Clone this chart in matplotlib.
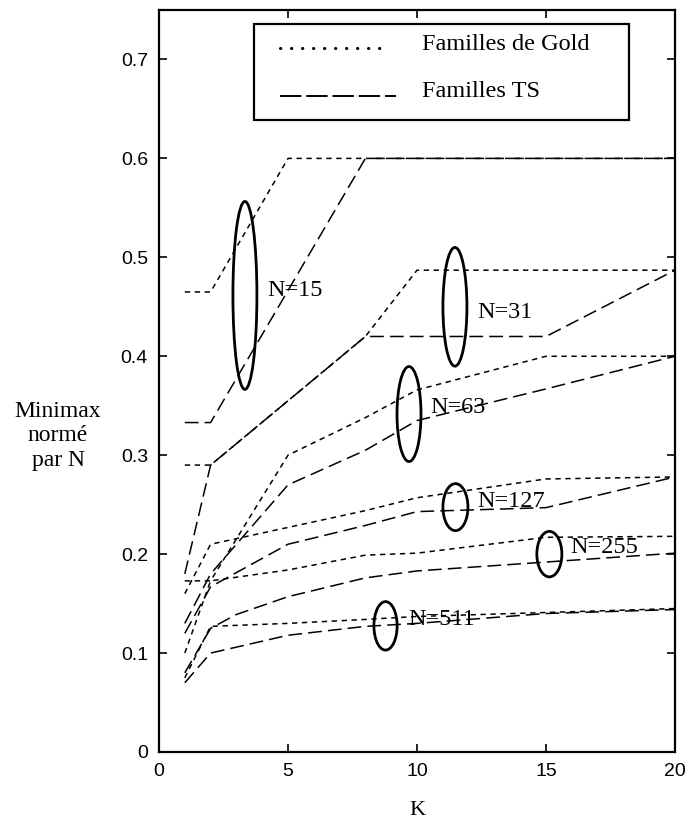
import numpy as np
import matplotlib
matplotlib.use("Agg")
from matplotlib import pyplot as plt
from matplotlib.patches import Ellipse, Rectangle

# Familles de Gold (pointillés)
k_g15 = [1, 2, 5, 20]
v_g15 = [0.465, 0.465, 0.600, 0.600]
k_g31 = [1, 2, 8, 10, 20]
v_g31 = [0.290, 0.290, 0.420, 0.487, 0.487]
k_g63 = [1, 2, 5, 8, 10, 15, 20]
v_g63 = [0.173, 0.173, 0.300, 0.338, 0.366, 0.400, 0.400]
k_g127 = [1, 2, 5, 8, 10, 15, 20]
v_g127 = [0.160, 0.210, 0.227, 0.244, 0.257, 0.276, 0.278]
k_g255 = [1, 2, 5, 8, 10, 15, 20]
v_g255 = [0.100, 0.173, 0.184, 0.199, 0.201, 0.217, 0.218]
k_g511 = [1, 2, 5, 8, 10, 15, 20]
v_g511 = [0.075, 0.127, 0.130, 0.134, 0.137, 0.141, 0.145]

# Familles TS (tirets)
k_t15 = [1, 2, 8, 20]
v_t15 = [0.333, 0.333, 0.600, 0.600]
k_t31 = [1, 2, 8, 15, 20]
v_t31 = [0.180, 0.290, 0.420, 0.420, 0.487]
k_t63 = [1, 2, 5, 8, 10, 15, 20]
v_t63 = [0.130, 0.180, 0.270, 0.305, 0.335, 0.367, 0.400]
k_t127 = [1, 2, 5, 8, 10, 15, 20]
v_t127 = [0.120, 0.167, 0.210, 0.229, 0.243, 0.247, 0.278]
k_t255 = [1, 2, 3, 5, 8, 10, 15, 20]
v_t255 = [0.080, 0.125, 0.139, 0.157, 0.176, 0.183, 0.192, 0.201]
k_t511 = [1, 2, 5, 8, 10, 15, 20]
v_t511 = [0.070, 0.100, 0.118, 0.127, 0.130, 0.140, 0.144]

# étiquettes N= et ellipses
n_labels = ["N=15", "N=31", "N=63", "N=127", "N=255", "N=511"]
lab_k = [4.19, 12.33, 10.5, 12.33, 15.93, 9.65]
lab_v = [0.466, 0.444, 0.348, 0.253, 0.2065, 0.1336]
ell_k = [3.33, 11.47, 9.69, 11.49, 15.13, 8.78]
ell_v = [0.4615, 0.450, 0.3416, 0.2475, 0.200, 0.1275]
ell_w = [0.93, 0.93, 0.93, 0.97, 0.97, 0.90]
ell_h = [0.190, 0.120, 0.096, 0.0475, 0.046, 0.049]

serif = "Liberation Serif"
plt.rcParams["font.family"] = "Liberation Sans"

fig = plt.figure(figsize=(6.98, 8.26), dpi=100)
ax = fig.add_axes([159 / 698, 1 - 752 / 826, 516 / 698, 742 / 826])

gold = dict(color="black", lw=1.1, dashes=(3.5, 3.0))
ts = dict(color="black", lw=1.1, dashes=(9, 4))

for k, v in [(k_g15, v_g15), (k_g31, v_g31), (k_g63, v_g63),
             (k_g127, v_g127), (k_g255, v_g255), (k_g511, v_g511)]:
    ax.plot(k, v, **gold)
for k, v in [(k_t15, v_t15), (k_t31, v_t31), (k_t63, v_t63),
             (k_t127, v_t127), (k_t255, v_t255), (k_t511, v_t511)]:
    ax.plot(k, v, **ts)

for lab, lk, lv, ek, ev, ew, eh in zip(n_labels, lab_k, lab_v, ell_k, ell_v, ell_w, ell_h):
    ax.add_patch(Ellipse((ek, ev), ew, eh, fill=False, lw=2.0, color="black"))
    ax.text(lk, lv, lab, family=serif, fontsize=17.5, va="center", ha="left")

# légende dessinée à la main
ax.add_patch(Rectangle((0.184, 0.852), 0.727, 0.129, transform=ax.transAxes,
                       fill=False, lw=1.6, color="black", zorder=5))
ax.plot([0.234, 0.438], [0.949, 0.949], transform=ax.transAxes, color="black",
        lw=2.2, linestyle=(0, (0.1, 3.5)), dash_capstyle="round", zorder=5)
ax.plot([0.234, 0.46], [0.884, 0.884], transform=ax.transAxes, color="black",
        lw=1.4, dashes=(11, 2.5), zorder=5)
ax.text(0.51, 0.954, "Familles de Gold", transform=ax.transAxes, family=serif,
        fontsize=17.5, va="center", ha="left")
ax.text(0.51, 0.890, "Familles TS", transform=ax.transAxes, family=serif,
        fontsize=17.5, va="center", ha="left")

ax.set_xlim(0, 20)
ax.set_ylim(0, 0.75)
ax.set_xticks([0, 5, 10, 15, 20])
ax.set_yticks(np.arange(0, 0.71, 0.1))
ax.set_yticklabels(["0", "0.1", "0.2", "0.3", "0.4", "0.5", "0.6", "0.7"])
ax.tick_params(direction="in", top=True, right=True, length=6, width=1.2,
               labelsize=14, pad=8)
for s in ax.spines.values():
    s.set_linewidth(1.6)

ax.set_xlabel("K", family=serif, fontsize=16, labelpad=15)
fig.text(58 / 698, 1 - 436 / 826, "Minimax\nnormé\npar N", family=serif,
         fontsize=17, ha="center", va="center", linespacing=1.2)

fig.savefig("out.png", dpi=100)
